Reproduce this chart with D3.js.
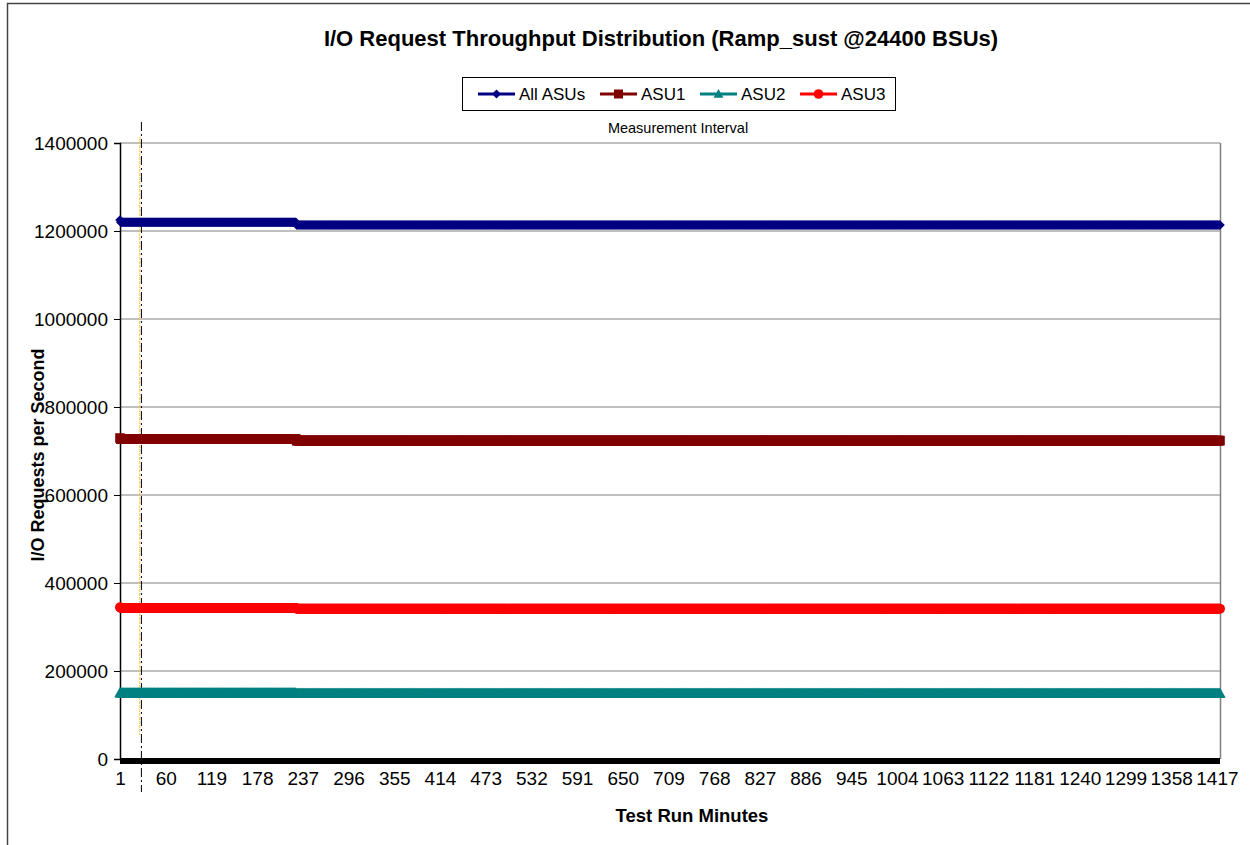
<!DOCTYPE html>
<html><head><meta charset="utf-8">
<script src="https://cdn.jsdelivr.net/npm/d3@7"></script>
<style>
html,body{margin:0;padding:0;background:#fff;}
svg{display:block;font-family:"Liberation Sans",Arial,sans-serif;}
</style></head>
<body>
<svg id="chart" width="1250" height="845"></svg>
<script>
// ---- data ----
const title = "I/O Request Throughput Distribution (Ramp_sust @24400 BSUs)";
const totalMinutes = 1421;
const tickLabels = [1,60,119,178,237,296,355,414,473,532,591,650,709,768,827,886,945,1004,1063,1122,1181,1240,1299,1358,1417];
const yTicks = [0,200000,400000,600000,800000,1000000,1200000,1400000];
// level segments: each value holds from its start minute until the next start minute
const segmentStarts = [1, 2, 229];
const allAsus = [1225000, 1220000, 1213500];
const asu1    = [729500, 727100, 723600];
const asu2    = [150500, 149800, 149100];
const asu3    = [345000, 343100, 341300];
const measurementStart = 28;
const yellowMarker = 26.5;
const seriesNames = ["All ASUs","ASU1","ASU2","ASU3"];
const seriesColors = ["#000080","#800000","#008080","#FF0000"];

function expand(levels){
  const out=[];
  for(let m=1;m<=totalMinutes;m++){
    let k=0;
    for(let i=0;i<segmentStarts.length;i++) if(m>=segmentStarts[i]) k=i;
    out.push({m:m, v:levels[k]});
  }
  return out;
}
const seriesData = [allAsus,asu1,asu2,asu3].map(expand);

// marker shapes (path strings built from a half-size s)
const shapes = [
  s => `M0,${-s}L${s},0L0,${s}L${-s},0Z`,
  s => `M${-s},${-s}H${s}V${s}H${-s}Z`,
  s => `M0,${-s*1.1}L${s*1.1},${s*0.85}L${-s*1.1},${s*0.85}Z`,
  s => `M${-s},0A${s},${s} 0 1,0 ${s},0A${s},${s} 0 1,0 ${-s},0Z`
];
const markerHalf = [4.8, 4.8, 5.2, 5.0];
const legendHalf = [4.5, 4.5, 4.5, 4.8];

// ---- layout ----
const svg = d3.select("#chart");
const L=120, R=1220, T=143, B=759;
const x = d3.scaleLinear().domain([1,totalMinutes]).range([L,R]);
const y = d3.scaleLinear().domain([0,1400000]).range([B,T]);
const FONT = "Liberation Sans, Arial, sans-serif";

// outer frame
svg.append("path").attr("d","M7.5,845 L7.5,3.5 L1250,3.5").attr("fill","none").attr("stroke","#444").attr("stroke-width",1.5);

// title
svg.append("text").attr("x",661).attr("y",46).attr("text-anchor","middle")
  .attr("font-size",22).attr("font-weight","bold").text(title);

// gridlines
svg.append("g").selectAll("line").data(yTicks.filter(d=>d>0)).join("line")
  .attr("x1",L).attr("x2",R).attr("y1",d=>y(d)).attr("y2",d=>y(d))
  .attr("stroke","#808080").attr("stroke-width",1);
// right border of plot
svg.append("line").attr("x1",R+0.5).attr("x2",R+0.5).attr("y1",T).attr("y2",B)
  .attr("stroke","#808080").attr("stroke-width",1.5);

// y axis
const yAxis = d3.axisLeft(y).tickValues(yTicks).tickSize(6).tickPadding(6).tickFormat(d3.format("d"));
const gy = svg.append("g").attr("transform",`translate(${L},0)`).call(yAxis);
gy.select(".domain").attr("stroke","#000").attr("stroke-width",1.5);
gy.selectAll(".tick line").attr("stroke","#000");
gy.selectAll("text").attr("font-size",19).attr("fill","#000").attr("font-family",FONT);

// x axis labels
const xAxis = d3.axisBottom(x).tickValues(tickLabels).tickSize(0).tickPadding(13).tickFormat(d3.format("d"));
const gx = svg.append("g").attr("transform",`translate(0,${B})`).call(xAxis);
gx.select(".domain").remove();
gx.selectAll("text").attr("font-size",19).attr("fill","#000").attr("font-family",FONT);
// thick x axis line
svg.append("line").attr("x1",L).attr("x2",R).attr("y1",B+2).attr("y2",B+2)
  .attr("stroke","#000").attr("stroke-width",6);

// axis titles
svg.append("text").attr("x",692).attr("y",822).attr("text-anchor","middle")
  .attr("font-size",18.5).attr("font-weight","bold").text("Test Run Minutes");
svg.append("text").attr("transform","translate(44,455) rotate(-90)").attr("text-anchor","middle")
  .attr("font-size",18).attr("font-weight","bold").text("I/O Requests per Second");

// measurement interval markers
svg.append("line").attr("x1",x(yellowMarker)).attr("x2",x(yellowMarker)).attr("y1",137).attr("y2",735)
  .attr("stroke","#F5C842").attr("stroke-width",1).attr("stroke-dasharray","3,1");
svg.append("line").attr("x1",x(measurementStart)+0.5).attr("x2",x(measurementStart)+0.5).attr("y1",122).attr("y2",792)
  .attr("stroke","#000").attr("stroke-width",1).attr("stroke-dasharray","9,3,2,3");
svg.append("text").attr("x",678).attr("y",133).attr("text-anchor","middle")
  .attr("font-size",14.5).text("Measurement Interval");

// series
seriesData.forEach((data,i)=>{
  const g = svg.append("g");
  g.append("path").datum(data)
    .attr("d", d3.line().x(d=>x(d.m)).y(d=>y(d.v)))
    .attr("fill","none").attr("stroke",seriesColors[i]).attr("stroke-width",2.5);
  g.selectAll("path.mk").data(data).join("path").attr("class","mk")
    .attr("transform",d=>`translate(${x(d.m)},${y(d.v)})`)
    .attr("d", shapes[i](markerHalf[i]))
    .attr("fill",seriesColors[i]);
});

// legend
const lg = svg.append("g");
lg.append("rect").attr("x",462.5).attr("y",77.5).attr("width",433).attr("height",33)
  .attr("fill","#fff").attr("stroke","#000").attr("stroke-width",1);
const lx = [478, 600, 700, 800];
seriesNames.forEach((n,i)=>{
  const g = lg.append("g").attr("transform",`translate(${lx[i]},94)`);
  g.append("line").attr("x1",0).attr("x2",37).attr("y1",0).attr("y2",0)
    .attr("stroke",seriesColors[i]).attr("stroke-width",3);
  g.append("path").attr("transform","translate(18.5,0)")
    .attr("d", shapes[i](legendHalf[i])).attr("fill",seriesColors[i]);
  g.append("text").attr("x",41).attr("y",100-94).attr("font-size",17).text(n);
});
</script>
</body></html>
